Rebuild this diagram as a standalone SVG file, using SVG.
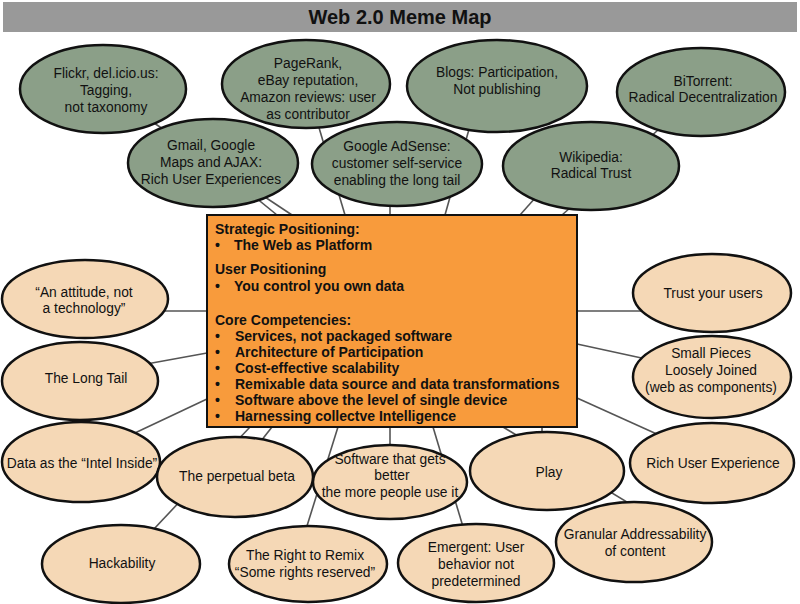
<svg xmlns="http://www.w3.org/2000/svg" width="800" height="604" viewBox="0 0 800 604">
<style>
.t{font-family:"Liberation Sans",Arial,sans-serif;font-size:13.8px;fill:#111;text-anchor:middle}
.b{font-family:"Liberation Sans",Arial,sans-serif;font-size:14px;font-weight:bold;fill:#111}
.g{fill:#8b9f88;stroke:#111;stroke-width:2.5}
.n{fill:#f5d8b6;stroke:#111;stroke-width:2.5}
.c line{stroke:#555;stroke-width:1.6}
</style>
<rect x="0" y="0" width="800" height="604" fill="#fff"/>
<g id="title">
<rect x="3" y="2" width="794" height="30" fill="#999"/>
<text x="400" y="24" font-family="'Liberation Sans',Arial,sans-serif" font-size="20" font-weight="bold" text-anchor="middle" fill="#111">Web 2.0 Meme Map</text>
</g>
<g id="connectors" class="c">
<line x1="103" y1="89" x2="292" y2="215"/>
<line x1="306" y1="84" x2="345" y2="215"/>
<line x1="213" y1="163" x2="277" y2="215"/>
<line x1="390" y1="170" x2="390" y2="215"/>
<line x1="480" y1="90" x2="445" y2="215"/>
<line x1="701" y1="92" x2="562" y2="215"/>
<line x1="560" y1="170" x2="520" y2="215"/>
<line x1="150" y1="311" x2="207" y2="311"/>
<line x1="130" y1="367" x2="207" y2="353"/>
<line x1="120" y1="440" x2="207" y2="399"/>
<line x1="577" y1="311" x2="650" y2="311"/>
<line x1="577" y1="344" x2="660" y2="362"/>
<line x1="577" y1="398" x2="670" y2="440"/>
<line x1="272" y1="427" x2="250" y2="455"/>
<line x1="250" y1="427" x2="121" y2="564"/>
<line x1="338" y1="427" x2="301" y2="545"/>
<line x1="390" y1="427" x2="390" y2="460"/>
<line x1="433" y1="427" x2="470" y2="550"/>
<line x1="542" y1="427" x2="542" y2="460"/>
<line x1="503" y1="427" x2="650" y2="516"/>
</g>
<g id="flickr"><ellipse class="g" cx="103" cy="89" rx="83" ry="44"/>
<text class="t" x="106" y="78">Flickr, del.icio.us:</text><text class="t" x="106" y="95">Tagging,</text><text class="t" x="106" y="112">not taxonomy</text></g>
<g id="pagerank"><ellipse class="g" cx="306" cy="84" rx="84" ry="44"/>
<text class="t" x="308" y="68">PageRank,</text><text class="t" x="308" y="85">eBay reputation,</text><text class="t" x="308" y="102">Amazon reviews: user</text><text class="t" x="308" y="119">as contributor</text></g>
<g id="blogs"><ellipse class="g" cx="497" cy="86" rx="90" ry="46"/>
<text class="t" x="497" y="77">Blogs: Participation,</text><text class="t" x="497" y="94">Not publishing</text></g>
<g id="bittorrent"><ellipse class="g" cx="701" cy="92" rx="84" ry="44"/>
<text class="t" x="703" y="86">BiTorrent:</text><text class="t" x="703" y="102">Radical Decentralization</text></g>
<g id="gmail"><ellipse class="g" cx="213" cy="163" rx="85" ry="44"/>
<text class="t" x="211" y="150">Gmail, Google</text><text class="t" x="211" y="167">Maps and AJAX:</text><text class="t" x="211" y="184">Rich User Experiences</text></g>
<g id="adsense"><ellipse class="g" cx="397" cy="164" rx="85" ry="42"/>
<text class="t" x="397" y="151">Google AdSense:</text><text class="t" x="397" y="168">customer self-service</text><text class="t" x="397" y="185">enabling the long tail</text></g>
<g id="wikipedia"><ellipse class="g" cx="591" cy="166" rx="88" ry="44"/>
<text class="t" x="591" y="162">Wikipedia:</text><text class="t" x="591" y="178">Radical Trust</text></g>
<g id="attitude"><ellipse class="n" cx="85" cy="299" rx="83" ry="39"/>
<text class="t" x="84" y="297">“An attitude, not</text><text class="t" x="84" y="313">a technology”</text></g>
<g id="longtail"><ellipse class="n" cx="80" cy="381" rx="78" ry="39"/>
<text class="t" x="86" y="383">The Long Tail</text></g>
<g id="intel"><ellipse class="n" cx="81" cy="462" rx="79" ry="40"/>
<text class="t" x="82" y="468">Data as the “Intel Inside”</text></g>
<g id="beta"><ellipse class="n" cx="235" cy="477" rx="78" ry="40"/>
<text class="t" x="237" y="481">The perpetual beta</text></g>
<g id="hackability"><ellipse class="n" cx="121" cy="564" rx="79" ry="39"/>
<text class="t" x="122" y="568">Hackability</text></g>
<g id="remix"><ellipse class="n" cx="308" cy="564" rx="79" ry="38"/>
<text class="t" x="305" y="560">The Right to Remix</text><text class="t" x="305" y="577">“Some rights reserved”</text></g>
<g id="software"><ellipse class="n" cx="390" cy="482" rx="77" ry="37"/>
<text class="t" x="390" y="464">Software that gets</text><text class="t" x="392" y="480">better</text><text class="t" x="390" y="497">the more people use it</text></g>
<g id="emergent"><ellipse class="n" cx="476" cy="563" rx="78" ry="39"/>
<text class="t" x="476" y="552">Emergent: User</text><text class="t" x="476" y="569">behavior not</text><text class="t" x="476" y="586">predetermined</text></g>
<g id="play"><ellipse class="n" cx="547" cy="471" rx="77" ry="39"/>
<text class="t" x="549" y="477">Play</text></g>
<g id="granular"><ellipse class="n" cx="634" cy="542" rx="78" ry="40"/>
<text class="t" x="635" y="539">Granular Addressability</text><text class="t" x="635" y="556">of content</text></g>
<g id="richue"><ellipse class="n" cx="712" cy="463" rx="82" ry="40"/>
<text class="t" x="713" y="468">Rich User Experience</text></g>
<g id="trust"><ellipse class="n" cx="712" cy="293" rx="79" ry="39"/>
<text class="t" x="713" y="298">Trust your users</text></g>
<g id="smallpieces"><ellipse class="n" cx="712" cy="377" rx="79" ry="41"/>
<text class="t" x="711" y="358">Small Pieces</text><text class="t" x="711" y="375">Loosely Joined</text><text class="t" x="711" y="392">(web as components)</text></g>
<g id="core">
<rect x="207" y="215" width="370" height="212" fill="#f89b3c" stroke="#111" stroke-width="2"/>
<text class="b" x="215" y="234">Strategic Positioning:</text>
<text class="b" x="215" y="250">•</text><text class="b" x="234" y="250">The Web as Platform</text>
<text class="b" x="215" y="274">User Positioning</text>
<text class="b" x="215" y="291">•</text><text class="b" x="234" y="291">You control you own data</text>
<text class="b" x="215" y="325">Core Competencies:</text>
<text class="b" x="215" y="341">•</text><text class="b" x="235" y="341">Services, not packaged software</text>
<text class="b" x="215" y="357">•</text><text class="b" x="235" y="357">Architecture of Participation</text>
<text class="b" x="215" y="373">•</text><text class="b" x="235" y="373">Cost-effective scalability</text>
<text class="b" x="215" y="389">•</text><text class="b" x="235" y="389">Remixable data source and data transformations</text>
<text class="b" x="215" y="405">•</text><text class="b" x="235" y="405">Software above the level of single device</text>
<text class="b" x="215" y="421">•</text><text class="b" x="235" y="421">Harnessing collectve Intelligence</text>
</g>
</svg>
